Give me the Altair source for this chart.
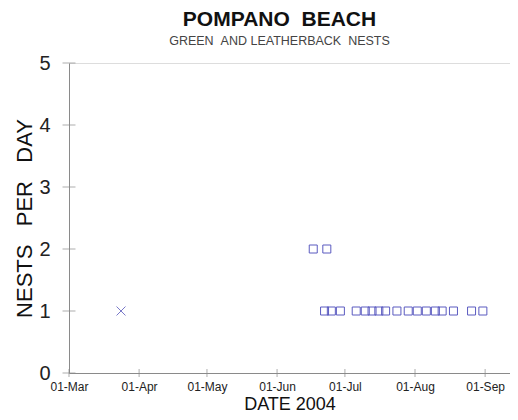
import altair as alt
import pandas as pd

# ---- data ----
green_dates = [
    "2004-06-17", "2004-06-23",
    "2004-06-22", "2004-06-25", "2004-06-29",
    "2004-07-06", "2004-07-10", "2004-07-13", "2004-07-16", "2004-07-19", "2004-07-24",
    "2004-07-29", "2004-08-02", "2004-08-06", "2004-08-10", "2004-08-13", "2004-08-18",
    "2004-08-26", "2004-08-31",
]
green_counts = [2, 2,
                1, 1, 1,
                1, 1, 1, 1, 1, 1,
                1, 1, 1, 1, 1, 1,
                1, 1]
leather_dates = ["2004-03-24"]
leather_counts = [1]

x_tick_dates = ["2004-03-01", "2004-04-01", "2004-05-01", "2004-06-01",
                "2004-07-01", "2004-08-01", "2004-09-01"]
y_tick_values = [0, 1, 2, 3, 4, 5]

FONT = "Liberation Sans"
MARK_COLOR = "#5b5bc0"
AXIS_COLOR = "#8a8a8a"

green = pd.DataFrame({"date": green_dates, "nests": green_counts})
leather = pd.DataFrame({"date": leather_dates, "nests": leather_counts})
xt = pd.DataFrame({"date": x_tick_dates, "nests": [0] * len(x_tick_dates)})
yt = pd.DataFrame({"date": ["2004-03-01"] * len(y_tick_values), "nests": y_tick_values})

x_scale = alt.Scale(type="utc",
                    domain=[alt.DateTime(year=2004, month=3, date=1, utc=True),
                            alt.DateTime(year=2004, month=9, date=12, utc=True)])
y_scale = alt.Scale(domain=[0, 5], nice=False)

x_enc = alt.X("date:T", scale=x_scale, title="DATE 2004",
              axis=alt.Axis(values=[alt.DateTime(year=2004, month=m, date=1, utc=True) for m in range(3, 10)],
                            labelExpr="utcFormat(datum.value, '%d-%b')",
                            ticks=False, tickSize=0, grid=False,
                            labelFont=FONT, labelFontSize=12, labelColor="#222", labelPadding=8,
                            titleFont=FONT, titleFontSize=18, titleFontWeight="normal",
                            titleColor="#111", titlePadding=3,
                            domainColor=AXIS_COLOR, labelFlush=False))
y_enc = alt.Y("nests:Q", scale=y_scale, title="NESTS\u00a0\u00a0\u00a0PER\u00a0\u00a0\u00a0DAY",
              axis=alt.Axis(values=y_tick_values, format="d", ticks=False, tickSize=0, grid=False,
                            labelFont=FONT, labelFontSize=20, labelColor="#222", labelPadding=19,
                            titleFont=FONT, titleFontSize=22, titleFontWeight="normal",
                            titleColor="#111", titleX=-33, titleY=155,
                            domainColor=AXIS_COLOR))

squares = alt.Chart(green).mark_point(shape="square", filled=False, size=64,
                                      strokeWidth=1, color=MARK_COLOR, opacity=1).encode(x=x_enc, y=y_enc)
crosses = alt.Chart(leather).mark_point(shape="M-1,-1L1,1M-1,1L1,-1", filled=False, size=80,
                                        strokeWidth=1, color="#7878c8", opacity=1).encode(
    x="date:T", y="nests:Q")
xticks = alt.Chart(xt).mark_tick(orient="vertical", size=8, thickness=1, color=AXIS_COLOR).encode(
    x="date:T", y="nests:Q")
yticks = alt.Chart(yt).mark_tick(orient="horizontal", size=13, thickness=1, color=AXIS_COLOR).encode(
    x="date:T", y="nests:Q")

chart = alt.layer(squares, crosses, xticks, yticks).properties(
    width=441, height=310,
    autosize=alt.AutoSizeParams(type="none"),
    padding={"left": 61, "top": 55, "right": 0, "bottom": 40},
    title=alt.TitleParams(
        text="POMPANO\u00a0\u00a0BEACH",
        subtitle="GREEN\u00a0\u00a0AND LEATHERBACK\u00a0\u00a0NESTS",
        font=FONT, fontSize=21, fontWeight="bold", color="#111",
        subtitleFont=FONT, subtitleFontSize=12.5, subtitleColor="#444", subtitlePadding=5,
        anchor="middle", dx=-10, offset=6,
    ),
).configure_view(stroke=AXIS_COLOR, strokeWidth=1).configure(background="white")

chart.save("out.html", embed_options={"renderer": "svg", "actions": False})
